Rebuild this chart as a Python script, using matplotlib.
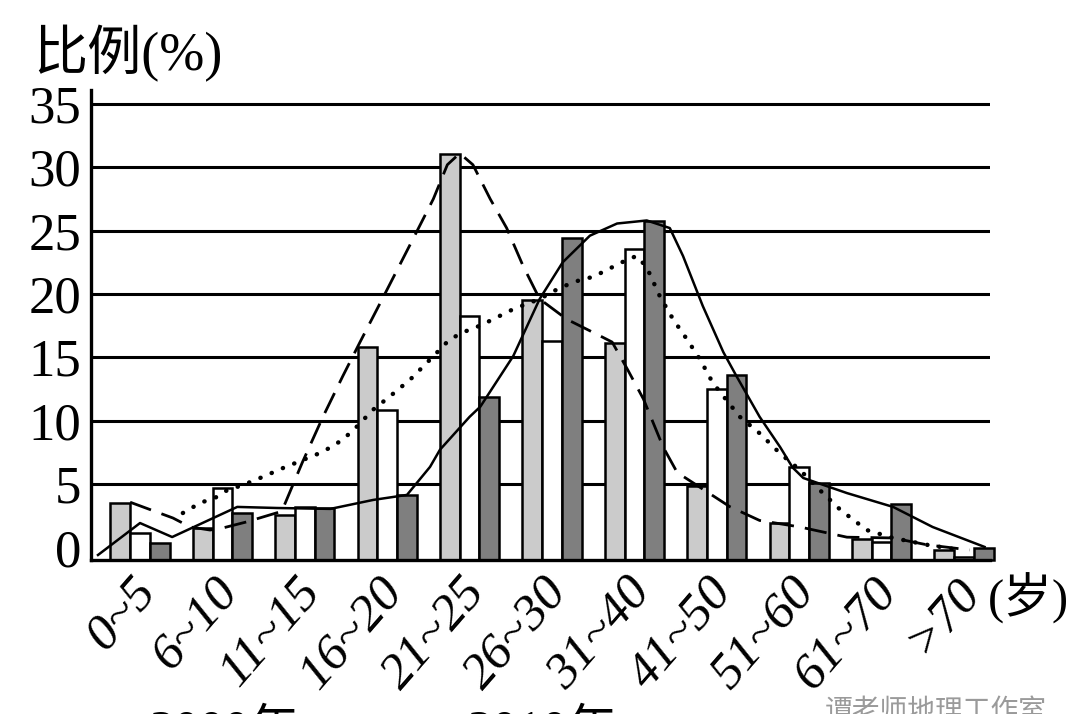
import numpy as np
import matplotlib
matplotlib.use("Agg")
import matplotlib.pyplot as plt
from matplotlib.transforms import ScaledTranslation

# ---------------- data ----------------
categories = ["0~5", "6~10", "11~15", "16~20", "21~25", "26~30",
              "31~40", "41~50", "51~60", "61~70", ">70"]

# bar series (%): light grey, white, dark grey
series_light = [3.75, 2.08, 2.96, 15.85, 31.06, 19.52, 16.11, 4.84, 2.45, 1.38, 0.66]
series_white = [1.78, 4.74, 3.49, 10.85, 18.28, 16.29, 23.57, 12.46, 6.33, 1.18, 0.22]
series_dark = [1.14, 3.10, 3.42, 4.28, 11.85, 24.44, 25.74, 13.57, 5.10, 3.66, 0.77]

# curve series (x in category units, y in %)
dash_x = [-0.12, 0.40, 0.61, 0.85, 1.00, 1.29, 1.72, 1.97, 2.22, 2.46, 2.67, 2.94,
          3.31, 3.56, 3.73, 3.88, 4.04, 4.25, 4.45, 4.65, 4.85, 5.18, 5.58, 5.73,
          5.92, 6.11, 6.35, 6.52, 6.71, 7.16, 7.52, 8.01, 8.58, 9.14, 9.55, 10.07]
dash_y = [3.80, 2.76, 2.17, 1.97, 2.10, 2.50, 3.20, 6.70, 10.30, 13.50, 16.20, 19.60,
          24.30, 27.50, 30.20, 31.10, 30.20, 27.50, 25.20, 22.20, 19.60, 18.00, 16.70, 16.20,
          14.00, 11.70, 7.90, 5.90, 5.10, 3.50, 2.60, 2.17, 1.50, 1.45, 1.00, 0.66]

dot_x = [0.52, 0.73, 0.93, 1.06, 1.25, 1.49, 1.74, 1.98, 2.22, 2.46, 2.63, 2.83,
         3.03, 3.28, 3.56, 3.76, 4.00, 4.13, 4.53, 4.85, 5.10, 5.34, 5.50, 5.91,
         6.03, 6.15, 6.31, 6.47, 6.64, 6.80, 6.95, 7.12, 7.28, 7.52, 7.77, 8.01,
         8.25, 8.50, 8.82, 9.14, 9.55, 9.95]
dot_y = [3.09, 3.75, 4.14, 4.60, 4.93, 5.56, 6.27, 6.90, 7.54, 8.49, 9.52, 10.87,
         11.90, 13.25, 15.08, 16.43, 17.20, 17.50, 18.80, 19.60, 20.50, 21.10, 21.35, 22.70,
         23.00, 22.10, 19.80, 18.00, 16.40, 14.80, 13.00, 11.60, 10.30, 9.00, 7.40, 6.10,
         4.60, 3.30, 1.97, 1.45, 1.00, 0.66]

solid_x = [-0.51, 0.00, 0.39, 1.18, 1.66, 2.31, 2.83, 3.24, 3.52, 3.64, 4.00, 4.13,
           4.53, 4.85, 5.13, 5.46, 5.79, 6.15, 6.43, 6.59, 6.83, 7.08, 7.24, 7.52,
           7.77, 7.92, 8.05, 8.58, 9.14, 9.62, 10.25]
solid_y = [0.33, 2.43, 1.51, 3.49, 3.42, 3.36, 3.95, 4.28, 6.35, 7.70, 10.30, 11.10,
           15.10, 19.60, 22.50, 24.60, 25.56, 25.80, 25.20, 23.00, 19.05, 15.40, 13.50, 10.30,
           7.90, 6.30, 5.47, 4.40, 3.49, 2.17, 0.86]

y_ticks = [0, 5, 10, 15, 20, 25, 30, 35]

# ---------------- figure ----------------
W, H = 1080, 714
fig = plt.figure(figsize=(W / 100, H / 100), dpi=100)
ax = fig.add_axes([91 / W, 1 - 560 / H, (990 - 91) / W, (560 - 90) / H])

# first interval (0-5) is drawn taller than the others in the original
K = 1.2006
def fwd(y):
    y = np.asarray(y, dtype=float)
    return np.where(y < 5, y * K, 5 * K + (y - 5))
def inv(z):
    z = np.asarray(z, dtype=float)
    return np.where(z < 5 * K, z / K, z - 5 * K + 5)
ax.set_yscale("function", functions=(fwd, inv))

x = np.arange(len(categories))
bw = 0.24
bar_kw = dict(width=bw, edgecolor="black", linewidth=1.8, clip_on=False, zorder=3)
ax.bar(x - bw, series_light, color="#cbcbcb", **bar_kw)
ax.bar(x, series_white, color="white", **bar_kw)
ax.bar(x + bw, series_dark, color="#7f7f7f", **bar_kw)

ax.plot(dash_x, dash_y, color="black", lw=2.0, linestyle=(0, (8, 4)), zorder=4,
        clip_on=False)
ax.plot(dot_x, dot_y, color="black", lw=3.2, linestyle=(0, (0.05, 2.7)),
        dash_capstyle="round", zorder=4, clip_on=False)
ax.plot(solid_x, solid_y, color="black", lw=1.8, zorder=4, clip_on=False)

ax.set_xlim(-0.595, 10.316)
ax.set_ylim(0, 36.1)

# grid
for t in y_ticks[1:]:
    ax.axhline(t, color="black", lw=2.2, zorder=1)

for s in ["top", "right"]:
    ax.spines[s].set_visible(False)
for s in ["left", "bottom"]:
    ax.spines[s].set_linewidth(2.4)
    ax.spines[s].set_zorder(5)

serif = ["Liberation Serif", "DejaVu Serif"]
ax.set_yticks(y_ticks)
ax.set_yticklabels([str(t) for t in y_ticks], fontsize=38, family=serif)
ax.tick_params(axis="y", length=0, pad=7)
ax.yaxis.set_minor_locator(matplotlib.ticker.NullLocator())
# "0" label sits a little above the baseline in the original
lbl0 = ax.get_yticklabels()[0]
lbl0.set_transform(lbl0.get_transform() + ScaledTranslation(0, 12 / 100, fig.dpi_scale_trans))

ax.set_xticks(x)
ax.set_xticklabels(categories, fontsize=37, family=serif, style="italic",
                   rotation=49, ha="right", va="top", rotation_mode="anchor")
ax.tick_params(axis="x", length=0, pad=6)
for lbl in ax.get_xticklabels():
    lbl.set_transform(lbl.get_transform() + ScaledTranslation(-10 / 100, 0, fig.dpi_scale_trans))

cjk = ["Liberation Serif", "Noto Sans CJK SC"]
fig.text(33 / W, 1 - 70 / H, "比例(%)", fontsize=39, family=cjk, ha="left", va="baseline")
fig.text(988 / W, 1 - 598 / H, "(岁)", fontsize=35, family=cjk, ha="left", va="center")

# legend text cut off at the bottom of the original image
fig.text(150 / W, 1 - 745 / H, "2000年", fontsize=36, family=cjk, ha="left", va="baseline")
fig.text(468 / W, 1 - 745 / H, "2010年", fontsize=36, family=cjk, ha="left", va="baseline")
fig.text(825 / W, 1 - 696 / H, "谭老师地理工作室", fontsize=20, family=["Noto Sans CJK SC"],
         color="#9a9a9a", ha="left", va="top")

fig.savefig("out.png", dpi=100)
